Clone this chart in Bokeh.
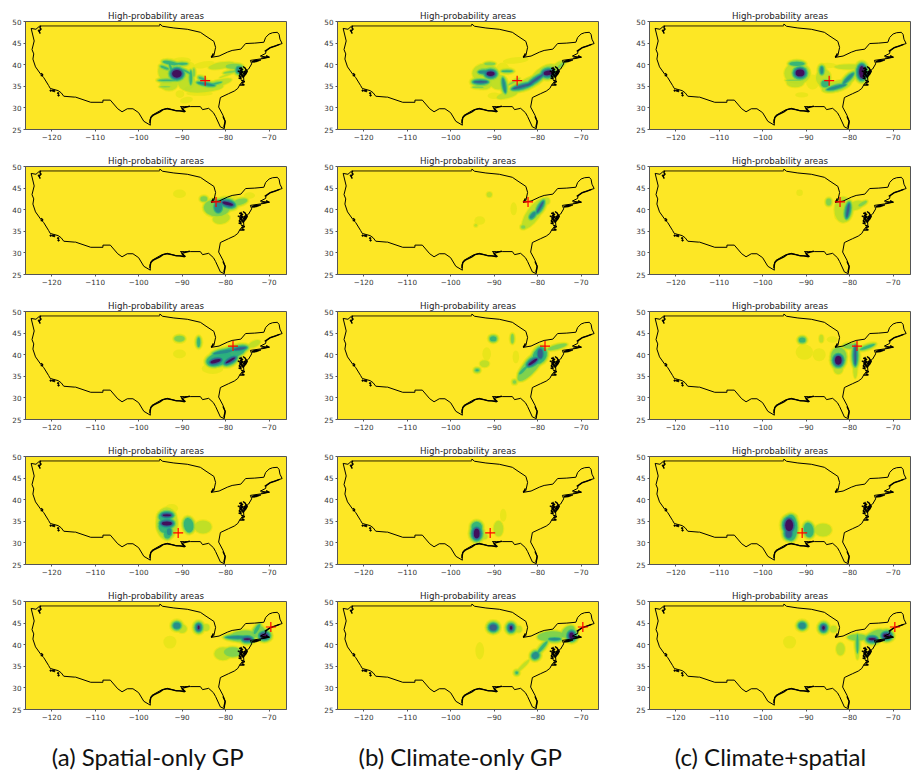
from bokeh.plotting import figure
from bokeh.layouts import column, row
from bokeh.models import FixedTicker, ColumnDataSource, Range1d
from bokeh.core.properties import value
from bokeh.embed import file_html
from bokeh.resources import INLINE

XTICKS = [-120, -110, -100, -90, -80, -70]
YTICKS = [25, 30, 35, 40, 45, 50]
TITLE = "High-probability areas"
CAPTIONS = ["(a) Spatial-only GP", "(b) Climate-only GP", "(c) Climate+spatial"]
CAPTION_X = [139.5, 452, 762]

# observed test sites (lon, lat), one per row
SITE_LON = [-84.7, -82.2, -78.3, -90.9, -69.6]
SITE_LAT = [36.3, 41.8, 42.0, 32.3, 44.1]

# probability levels, light to dark (viridis reversed)
LEVEL_COLORS = ["#e6e419", "#b8de29", "#74d055", "#2ab07f", "#24868e", "#39568c", "#440154"]

# outline of the conterminous US
US_LON = [-122.6, -95.2, -95.1, -94.5, -91.9, -88.8, -85.8, -84.5, -82.7, -82.3, -82.7, -83.3, -81.5, -79.6, -78.5, -76.5, -75.4, -73.3, -71.2, -70.8, -70.0, -69.2, -68.1, -67.7, -67.5, -67.0,
          -68.5, -69.7, -70.7, -70.8, -72.0, -70.1, -71.5, -74.3, -74.0, -74.7, -75.5, -75.9, -75.8, -76.6, -77.2, -78.0, -79.3, -81.2, -81.6, -80.6, -80.1, -80.3, -81.2, -82.3, -82.8, -83.9, -85.3, -85.8, -88.0, -89.5, -90.4, -89.2, -91.5, -93.4, -94.8, -96.9, -97.4, -97.3,
          -98.8, -100.0, -101.3, -102.6, -103.8, -104.8, -106.5, -108.2, -108.2, -111.0, -114.5, -114.8, -117.2, -117.8, -118.5, -120.3, -120.7, -121.8, -122.5, -123.7, -124.3, -124.1, -124.5, -124.0, -124.7, -123.6, -122.8, -122.6]
US_LAT = [49.0, 49.0, 49.4, 48.9, 48.5, 48.2, 47.5, 46.6, 45.4, 44.0, 42.1, 41.7, 42.0, 42.9, 43.3, 43.6, 44.9, 45.0, 45.2, 46.3, 47.1, 47.4, 47.5, 47.0, 45.9, 44.9,
          44.4, 44.0, 43.2, 42.6, 42.0, 41.7, 41.4, 41.0, 40.2, 39.0, 38.4, 37.6, 36.3, 35.6, 34.5, 33.9, 33.3, 32.4, 30.2, 28.3, 26.8, 25.2, 25.6, 28.0, 28.9, 29.9, 29.6, 30.3, 30.3, 30.3, 30.3, 29.2, 29.4, 29.9, 29.5, 28.3, 27.2, 26.0,
          26.9, 28.9, 29.8, 29.8, 29.1, 29.8, 31.8, 31.8, 31.3, 31.3, 32.5, 32.5, 32.7, 33.5, 34.0, 34.5, 35.2, 37.0, 37.8, 39.5, 41.3, 42.5, 43.5, 45.5, 48.4, 48.2, 48.9, 49.0]

# intricate coastlines (bays, sounds, barrier islands)
COAST_LON = [[-122.6, -122.9, -122.4, -122.7, -122.5], [-76.5, -76.3, -76.4, -76.1, -76.0, -75.7, -75.5, -75.2, -75.5, -76.0],
             [-77.2, -76.3, -76.9, -76.4, -77.0, -76.3], [-76.7, -75.7, -76.3, -75.6, -76.4], [-74.0, -73.0, -71.9, -73.5, -74.0],
             [-71.8, -70.6, -69.9, -70.7], [-71.0, -69.8, -68.6, -67.6], [-97.4, -97.2, -96.5, -95.2, -94.4, -93.5], [-93.5, -92.4, -91.3, -90.5, -89.4, -90.1, -89.0, -88.2], [-83.3, -82.8, -83.0], [-80.6, -80.1, -80.4], [-122.5, -122.0, -122.4], [-76.0, -75.4, -75.8, -75.1],
             [-76.9, -76.0, -76.7, -75.9, -76.8, -76.1, -76.6], [-75.4, -75.0, -75.3, -75.7]]
COAST_LAT = [[47.2, 47.8, 48.2, 48.6, 49.0], [39.5, 38.9, 38.1, 37.4, 37.0, 37.4, 38.0, 38.6, 39.2, 39.6],
             [38.6, 38.0, 37.4, 37.0, 36.9, 36.7], [35.3, 35.3, 35.8, 36.1, 36.4], [40.6, 40.7, 41.1, 40.9, 40.6],
             [41.5, 41.7, 41.7, 42.1], [43.1, 43.9, 44.3, 44.7], [26.5, 27.8, 28.4, 29.0, 29.6, 29.8], [29.8, 29.6, 29.3, 29.3, 29.1, 29.9, 30.2, 30.4], [41.7, 42.6, 42.1], [28.0, 26.9, 25.5], [37.4, 37.6, 38.0], [38.0, 37.8, 38.4, 38.7],
             [39.2, 38.9, 38.6, 38.3, 37.9, 37.6, 37.2], [38.9, 38.5, 37.9, 37.5]]
ISLAND_LON = [-120.2, -119.7, -119.4, -118.5, -118.4, -122.9]
ISLAND_LAT = [34.0, 34.0, 33.9, 33.4, 32.9, 47.9]

# bright features in each panel: lon, lat, width, height, angle, level
A1 = [(-93, 38.5, 5, 5, 0, 2), (-90, 41, 4, 1.5, 0, 1), (-93, 35.5, 4, 3, 0, 2), (-89, 36, 4, 4, 0, 2), (-88.5, 39.5, 3, 2.5, 0, 1),
      (-85, 40, 5, 1.5, 10, 1), (-81, 39.8, 6, 1.5, 10, 2), (-78, 39.6, 4, 1.2, 0, 3), (-85, 34.7, 9, 2.2, 5, 2), (-81.5, 35.8, 6, 1.5, 15, 2),
      (-90.5, 33.2, 2, 1.8, 0, 1), (-89, 31.8, 3, 1.5, 10, 1), (-86, 33.3, 6, 1, 0, 1),
      (-92.7, 40.4, 3.5, 0.8, -10, 4), (-90, 40.2, 2.5, 0.5, 0, 4), (-94, 39.3, 2, 0.5, -20, 4), (-92.5, 39, 0.5, 2.6, 20, 4),
      (-91.2, 37.9, 2.2, 1.8, 0, 7), (-93.5, 36.4, 4, 0.4, 0, 4), (-92, 37, 1.5, 0.6, 0, 3), (-93.9, 34.9, 2.5, 0.3, 0, 3),
      (-88, 37, 0.6, 3.4, 0, 4), (-89, 38.4, 2.2, 0.4, -30, 4), (-87.3, 38.2, 0.5, 2, 0, 3), (-84.5, 35.5, 4, 0.5, -10, 5),
      (-85.5, 36.8, 1.5, 0.5, -20, 4), (-82.3, 35.6, 3, 0.4, 15, 4), (-79, 38.3, 3, 0.5, 10, 3), (-77, 38.8, 1, 1.4, 0, 5), (-80, 37.5, 3, 0.4, 20, 2)]
B1 = [(-92, 38, 6, 4.5, 0, 2), (-92.5, 35.5, 4, 2.5, 0, 2), (-89, 36, 4, 3.5, 0, 2), (-88, 39, 3, 3, 0, 1), (-85, 41, 6, 1.5, 5, 1),
      (-87, 33, 5, 1.5, 15, 2), (-82, 35.8, 9, 2.4, 25, 2), (-78.5, 38.3, 6, 2.5, 30, 2), (-75.5, 39.5, 4, 1.6, 40, 2), (-90, 32.8, 3, 1.5, 0, 1),
      (-90.8, 37.9, 1.8, 1, 0, 7), (-93.1, 36, 3, 0.4, 0, 6), (-92.3, 38.3, 2.5, 0.7, 0, 5), (-87.7, 35.2, 0.6, 3.4, 10, 5),
      (-83.5, 35, 4.5, 0.5, 15, 6), (-80.5, 36.5, 4.5, 0.5, 35, 6), (-77.6, 38.1, 2, 1, 10, 7), (-74.7, 39.8, 2.8, 0.6, 40, 3),
      (-93.7, 34.8, 2.6, 0.4, 0, 3), (-91, 40.2, 2.5, 0.7, 0, 3), (-87, 38.5, 2.5, 0.4, 0, 4), (-85.5, 36, 3, 0.4, 30, 3)]
C1 = [(-92, 38, 6, 5, 0, 2), (-92.5, 35.8, 4, 2, 0, 2), (-88.5, 36, 3, 3.5, 0, 1), (-86, 37, 3.5, 4, 0, 2), (-83, 35, 7, 2.5, 15, 2),
      (-79.8, 37, 5, 2, 45, 2), (-80, 39.5, 7, 1.2, 0, 2), (-85, 39.8, 4, 1.3, 0, 1), (-77.2, 38.3, 2.4, 4, 0, 3), (-91, 33, 3, 1.2, 0, 1),
      (-91.4, 38.1, 2, 1.6, 0, 7), (-92.1, 40.2, 3.5, 1.0, 0, 4), (-92.9, 36.4, 3.5, 0.4, 0, 3), (-86.4, 38.7, 0.6, 1.6, 0, 5),
      (-85.6, 35.6, 1.8, 1.6, 0, 4), (-83, 34.8, 4.5, 0.6, 15, 5), (-80.3, 36.8, 3.4, 0.7, 45, 5), (-77.2, 38.3, 1.2, 2.8, 0, 7)]
A2 = [(-82, 40.5, 6, 4, 0, 3), (-81, 38, 4, 2.5, 10, 2), (-79, 42, 7, 2.5, 0, 1), (-79.5, 41.4, 2.5, 0.7, -15, 7), (-81.7, 40.6, 1.8, 2.6, 0, 5),
      (-85, 42.5, 1.6, 1.2, 0, 3), (-90.6, 43.7, 3, 2, 0, 1), (-76.7, 41.8, 3.5, 1.4, 15, 3), (-74.5, 43.3, 2.5, 1.5, 0, 1)]
B2 = [(-91.1, 43.5, 1.2, 1.2, 0, 2), (-93.3, 37.5, 2.5, 2, 0, 1), (-94.2, 36.4, 0.7, 0.7, 0, 2), (-81, 39, 3, 8, -35, 2),
      (-79.4, 40.6, 0.4, 2.8, -30, 6), (-81.1, 38.7, 0.8, 1.8, -40, 5), (-83.3, 36, 1, 0.8, 0, 3), (-78, 42, 1.6, 1.6, 0, 2),
      (-85.5, 40.2, 1.5, 3, 0, 1)]
C2 = [(-91.5, 43.9, 1.5, 1.5, 0, 1), (-81.5, 40, 4, 6, 0, 2), (-78.5, 41, 3.5, 2, 20, 2), (-80.4, 39.8, 0.5, 3.2, -10, 6), (-77, 41.4, 2.2, 0.7, 30, 3),
      (-84.8, 41.8, 1.2, 1.6, 0, 3), (-83, 38.5, 1, 1.5, 0, 1)]
A3 = [(-90.6, 43.7, 2.4, 1.4, 0, 3), (-86.2, 42.9, 0.7, 2.2, 0, 4), (-90.6, 40.2, 3, 2, 0, 1), (-81.5, 39, 6, 3, 15, 4), (-78.5, 40.5, 6, 2.5, 15, 4),
      (-83, 36.8, 5, 2.5, 0, 1), (-82.3, 38.5, 2.4, 0.8, 15, 7), (-78.9, 38.7, 2.4, 0.5, 30, 7), (-76.7, 41.4, 2.8, 0.5, 10, 6),
      (-80.6, 40.6, 4.5, 0.7, 10, 5), (-73.4, 42.5, 3, 1.4, 25, 2)]
B3 = [(-90.2, 43.7, 1.5, 1.2, 0, 4), (-85.8, 43.7, 0.7, 2.2, 0, 3), (-92.2, 37.9, 2.2, 1.6, 0, 2), (-93.9, 36.4, 0.8, 0.5, 0, 4),
      (-91.7, 40.2, 2, 3, 0, 1), (-81.5, 37.5, 9, 3, 50, 3), (-79.5, 39.8, 4, 3, 60, 4), (-81.1, 38.3, 2.4, 0.6, 35, 7), (-79.4, 40.2, 1.1, 2.2, 0, 6),
      (-83.3, 36.4, 2.6, 0.6, 45, 4), (-85.3, 33.7, 0.8, 0.8, 0, 3), (-75.5, 41.8, 4.6, 1, 15, 3), (-85, 39.5, 1.5, 3, 0, 1)]
C3 = [(-90.9, 43.4, 1.5, 1.2, 0, 4), (-86.5, 43.7, 1, 1.8, 0, 2), (-82.5, 39.5, 3.6, 4.5, 0, 3), (-82.6, 38.7, 1.5, 2, 0, 7),
      (-78.7, 39.8, 0.4, 4.3, 0, 6), (-75.9, 41.8, 3.6, 0.6, 20, 4), (-90.4, 40.6, 4, 3.5, 0, 1), (-87, 40, 3, 3, 0, 1), (-82.6, 36.8, 2.2, 2.6, 0, 2),
      (-78.7, 36.8, 1, 4.6, 0, 2), (-84, 43.5, 2.5, 1.5, 0, 1), (-80, 42, 3, 1.2, 0, 3)]
A4 = [(-93.5, 34.5, 5, 7.5, 0, 2), (-94, 36, 2.8, 2.2, 0, 4), (-94, 33.8, 2.8, 3, 0, 4), (-93.4, 32, 1.5, 2, 0, 4),
      (-93.5, 36.4, 1.9, 0.5, 0, 7), (-93.5, 34.5, 2.3, 0.9, 0, 7), (-93, 32.6, 1, 1.6, 0, 5),
      (-88.5, 34.1, 2.2, 3.4, 10, 4), (-85.2, 33.7, 4, 3, 0, 2), (-92.4, 38, 3, 2, 0, 1)]
B4 = [(-94, 33.7, 2.4, 2.4, 0, 4), (-94, 32.2, 1.3, 2.2, 0, 7), (-89, 33.3, 2.2, 3.6, 0, 2), (-87.9, 36.4, 1.5, 3, 0, 1), (-92.5, 31.5, 2, 1.4, 0, 2)]
C4 = [(-93.5, 33.5, 3, 6, 0, 4), (-93.9, 34.1, 1.8, 2.8, 0, 7), (-94, 32.2, 1.4, 2, 0, 6), (-89.4, 33, 2.2, 3.4, 10, 4),
      (-86.1, 33, 4, 3, 0, 2), (-93.3, 36, 2.6, 1.6, 0, 2)]
A5 = [(-91.2, 44.4, 1.6, 1.4, 0, 5), (-90, 43.7, 2.2, 2, 0, 2), (-86.2, 44, 0.4, 0.9, 0, 7), (-84.5, 44, 1.6, 1.6, 0, 2), (-76, 42, 6, 2.5, 5, 3), (-72.5, 43, 3, 2.5, 40, 3),
      (-77.2, 41.7, 5.5, 0.6, 0, 5), (-75, 41.3, 1.6, 0.4, 0, 7), (-71.1, 42.1, 1.5, 0.9, 0, 7), (-72.8, 43.6, 0.8, 2.6, -30, 4),
      (-78.4, 38.3, 4, 2.2, 0, 3), (-80.6, 37.9, 4, 3, 0, 2), (-92.8, 40.6, 3, 3, 0, 1)]
B5 = [(-90.2, 44, 1.6, 1.4, 0, 6), (-86.1, 43.9, 0.6, 0.9, 0, 7), (-84.4, 43.6, 1.6, 1.6, 0, 2), (-77, 42, 6, 2.2, 5, 3), (-73, 43, 3.5, 2.2, 40, 3),
      (-72.2, 42.1, 1, 1.4, 0, 7), (-76.1, 41.3, 2.6, 0.5, 0, 5), (-80.5, 37.5, 1.6, 1.4, 40, 5), (-83.3, 35.1, 4, 0.8, 45, 2),
      (-84.8, 33.5, 0.6, 0.6, 0, 4), (-78.9, 39.4, 3.6, 0.7, 50, 4), (-93.3, 38.6, 2, 4, 0, 1)]
C5 = [(-90.9, 44.4, 1.6, 1.4, 0, 5), (-86, 43.9, 0.6, 0.9, 0, 7), (-83.7, 43.6, 1.6, 1.6, 0, 2), (-74.8, 41.3, 1.6, 0.5, 0, 7),
      (-71.5, 42.1, 1.5, 0.9, 0, 7), (-78.2, 40.2, 0.5, 4.4, 0, 4), (-82.1, 39, 2, 3, 0, 2), (-78.2, 41.7, 4.6, 1.4, 0, 3), (-74, 42.5, 4, 1.6, 20, 3),
      (-93.8, 40.6, 3, 3, 0, 1), (-78.2, 37.9, 0.8, 2.8, 0, 2)]

PANELS = [[A1, B1, C1], [A2, B2, C2], [A3, B3, C3], [A4, B4, C4], [A5, B5, C5]]

X_RANGE = (-126, -66)
Y_RANGE = (25, 50)
HALO = 0.25


def panel(blobs, site_lon, site_lat, left, right, width):
    p = figure(width=width, height=145, x_range=Range1d(*X_RANGE), y_range=Range1d(*Y_RANGE),
               toolbar_location=None, output_backend="svg", title=TITLE,
               min_border_left=left, min_border_right=right, min_border_top=13, min_border_bottom=24,
               background_fill_color="#fde725", border_fill_color="white")
    p.title.align = "center"
    p.title.text_font = "DejaVu Sans"
    p.title.text_font_size = "8.7px"
    p.title.text_font_style = "normal"
    p.title.text_color = "#222222"
    p.title.standoff = 1
    p.title.offset = 0
    p.grid.visible = False
    p.outline_line_color = "#555555"
    p.outline_line_width = 1
    p.xaxis.ticker = FixedTicker(ticks=XTICKS)
    p.yaxis.ticker = FixedTicker(ticks=YTICKS)
    p.xaxis.major_label_overrides = {t: "\u2212" + str(-t) for t in XTICKS}
    for ax in (p.xaxis, p.yaxis):
        ax.major_tick_in = 0
        ax.major_tick_out = 2
        ax.minor_tick_line_color = None
        ax.axis_line_color = "#555555"
        ax.major_tick_line_color = "#555555"
        ax.major_label_text_font = "DejaVu Sans"
        ax.major_label_text_font_size = "7.2px"
        ax.major_label_text_color = "#333333"
        ax.major_label_standoff = 2
    for k in range(1, 8):
        sel = [b for b in blobs if b[5] >= k]
        if not sel:
            continue
        src = ColumnDataSource(dict(
            x=[b[0] for b in sel], y=[b[1] for b in sel],
            w=[b[2] + HALO * 2 * (b[5] - k) for b in sel],
            h=[b[3] + HALO * 2 * (b[5] - k) for b in sel],
            a=[b[4] for b in sel]))
        p.ellipse("x", "y", width="w", height="h", angle="a", angle_units="deg", source=src,
                  fill_color=LEVEL_COLORS[k - 1], fill_alpha=0.85, line_color=None)
    p.line(US_LON, US_LAT, line_color="black", line_width=1)
    p.line([US_LON[0], US_LON[1]], [US_LAT[0], US_LAT[1]], line_color="#8a7a10", line_width=1.6)
    p.multi_line(COAST_LON, COAST_LAT, line_color="black", line_width=1.4)
    p.scatter(ISLAND_LON, ISLAND_LAT, marker="circle", size=1.5, color="black")
    p.scatter([site_lon], [site_lat], marker="cross", size=10, line_color="red", line_width=1.2)
    return p


rows = []
for r, rp in enumerate(PANELS):
    rows.append(row(
        panel(rp[0], SITE_LON[r], SITE_LAT[r], 17, 34, 312),
        panel(rp[1], SITE_LON[r], SITE_LAT[r], 17, 34, 312),
        panel(rp[2], SITE_LON[r], SITE_LAT[r], 17, 2, 280),
        spacing=0))

cap = figure(width=904, height=40, x_range=Range1d(0, 904), y_range=Range1d(0, 40),
             toolbar_location=None, output_backend="svg", min_border=0)
cap.axis.visible = False
cap.grid.visible = False
cap.outline_line_color = None
cap.text(CAPTION_X, [17] * 3, text=CAPTIONS, text_align="center", text_baseline="middle",
         text_font=value("Lato"), text_font_size="24px", text_color="#111111")

layout = column(*rows, cap, spacing=0, margin=(8, 0, 0, 8))
open("out.html", "w").write(file_html(layout, INLINE))
